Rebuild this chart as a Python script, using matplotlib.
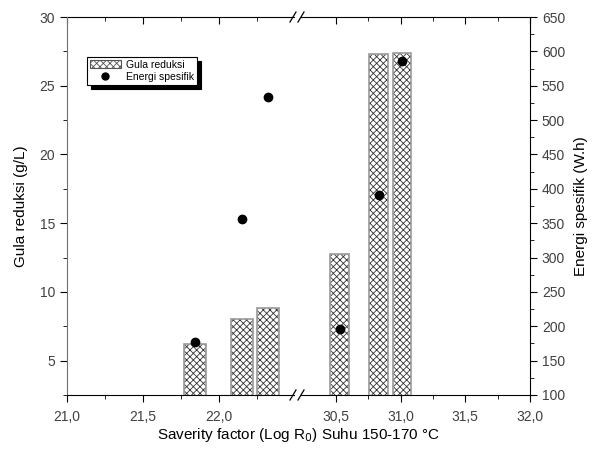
import numpy as np
import matplotlib
matplotlib.use("Agg")
import matplotlib.pyplot as plt
from matplotlib.ticker import FuncFormatter, MultipleLocator, FixedLocator
from matplotlib.patches import Patch
from matplotlib.lines import Line2D

plt.rcParams['font.family'] = ['Liberation Sans', 'DejaVu Sans']
plt.rcParams['hatch.linewidth'] = 0.6

# data
savf = [21.84, 22.15, 22.32, 30.53, 30.83, 31.01]
gula = [6.2, 8.0, 8.8, 12.75, 27.3, 27.35]
energi = [177, 356, 534, 196, 391, 586]

bar_w = 0.145
tick_col = '#404040'

fig = plt.figure(figsize=(5.93, 4.55), dpi=100)
W, H = 593.0, 455.0
bot = 60 / H
hgt = 378 / H
ax1 = fig.add_axes([67 / W, bot, 227 / W, hgt])
ax2 = fig.add_axes([301 / W, bot, 229 / W, hgt])
ax1r = ax1.twinx()
ax2r = ax2.twinx()

ax1.set_xlim(21.0, 22.49)
ax2.set_xlim(30.23, 32.0)

comma = FuncFormatter(lambda v, p: ('%.1f' % v).replace('.', ','))

ticks = [(ax1, [21.0, 21.5, 22.0], [21.25, 21.75, 22.25]),
         (ax2, [30.5, 31.0, 31.5, 32.0], [30.75, 31.25, 31.75])]

for (ax, maj, mnr), axr, lo, hi in zip(ticks, [ax1r, ax2r], [0, 25], [25, 40]):
    xs = [x for x in savf if lo < x < hi]
    gs = [g for x, g in zip(savf, gula) if lo < x < hi]
    es = [e for x, e in zip(savf, energi) if lo < x < hi]
    ax.bar(xs, gs, width=bar_w, bottom=0, color='white', edgecolor='#333333',
           hatch='xxxxx', linewidth=0, zorder=2)
    ax.bar(xs, gs, width=bar_w, bottom=0, fill=False, edgecolor='#9a9a9a',
           linewidth=1.2, zorder=3)
    axr.scatter(xs, es, s=36, color='black', zorder=4)
    ax.set_ylim(2.5, 30)
    axr.set_ylim(100, 650)
    ax.xaxis.set_major_locator(FixedLocator(maj))
    ax.xaxis.set_minor_locator(FixedLocator(mnr))
    ax.xaxis.set_major_formatter(comma)
    ax.tick_params(axis='x', which='major', direction='out', length=5, labelsize=10,
                   labelcolor=tick_col, pad=6)
    ax.tick_params(axis='x', which='minor', direction='out', length=3)
    sec = ax.secondary_xaxis('top')
    sec.xaxis.set_major_locator(FixedLocator(maj))
    sec.xaxis.set_minor_locator(FixedLocator(mnr))
    sec.tick_params(axis='x', which='both', direction='in', labeltop=False, length=5)
    sec.tick_params(axis='x', which='minor', length=3)

# left y axis
ax1.yaxis.set_major_locator(MultipleLocator(5))
ax1.yaxis.set_minor_locator(MultipleLocator(2.5))
ax1.tick_params(axis='y', which='major', direction='out', length=5, labelsize=10,
                labelcolor=tick_col)
ax1.tick_params(axis='y', which='minor', direction='out', length=3)
ax1.spines['right'].set_visible(False)
ax1.spines['top'].set_visible(False)
ax1.spines['left'].set_color('#707070')
ax1.set_ylabel('Gula reduksi (g/L)', fontsize=11, labelpad=8)

ax1r.set_yticks([])
for s in ax1r.spines.values():
    s.set_visible(False)

ax2.set_yticks([])
ax2.spines['left'].set_visible(False)
ax2.spines['right'].set_visible(False)
ax2.spines['top'].set_visible(False)
for s in ax2r.spines.values():
    s.set_visible(False)
ax2r.spines['right'].set_visible(True)
ax2r.yaxis.set_major_locator(MultipleLocator(50))
ax2r.yaxis.set_minor_locator(MultipleLocator(25))
ax2r.tick_params(axis='y', which='major', direction='out', length=5, labelsize=10,
                 labelcolor=tick_col)
ax2r.tick_params(axis='y', which='minor', direction='out', length=3)
ax2r.set_ylabel('Energi spesifik (W.h)', fontsize=11, labelpad=6)

fig.text(298 / W, 1 - 435 / H, 'Saverity factor (Log R$_0$) Suhu 150-170 \u00b0C',
         ha='center', va='center', fontsize=11)

# break marks
for yy in [395, 17]:
    for xx in [293, 301]:
        fig.add_artist(Line2D([(xx - 3) / W, (xx + 3) / W],
                              [1 - (yy + 5) / H, 1 - (yy - 5) / H],
                              color='black', lw=0.9))

# legend
handles = [Patch(facecolor='white', edgecolor='#555555', hatch='xxxxx', linewidth=0.8),
           Line2D([], [], marker='o', color='black', linestyle='none', markersize=5)]
leg = ax1.legend(handles, ['Gula reduksi', 'Energi spesifik'], loc='upper left',
                 bbox_to_anchor=(20 / 227, 1 - 40 / 378), fontsize=7.5, frameon=True,
                 fancybox=False, edgecolor='black',
                 shadow={'color': 'black', 'alpha': 1.0, 'ox': 3, 'oy': -3},
                 borderpad=0.25, handlelength=3.0, handleheight=0.9,
                 handletextpad=0.5, labelspacing=0.25, borderaxespad=0)
leg.get_frame().set_linewidth(0.8)
leg.set_zorder(10)

fig.savefig('out.png', dpi=100)
